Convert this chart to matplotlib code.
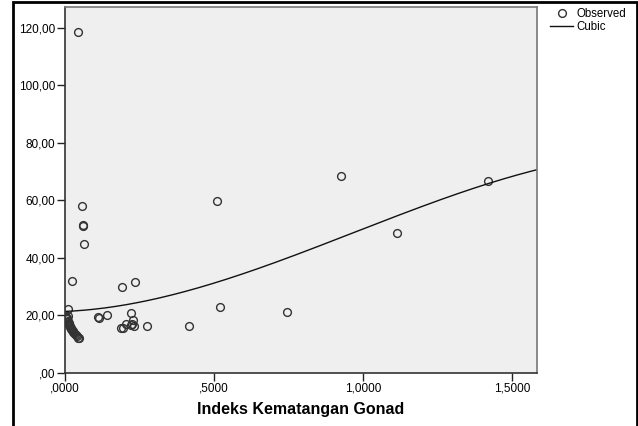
import numpy as np
import matplotlib.pyplot as plt
from matplotlib.ticker import FuncFormatter
from matplotlib.patches import Rectangle

plt.rcParams['font.family'] = ['Liberation Sans', 'DejaVu Sans']

ikg = [0.044, 0.056, 0.060, 0.061, 0.064, 0.025, 0.192, 0.235, 0.511, 0.520,
       0.746, 0.926, 1.113, 1.420,
       0.009, 0.010, 0.005, 0.006, 0.008, 0.010, 0.011, 0.012, 0.013, 0.015,
       0.016, 0.018, 0.019, 0.021, 0.022, 0.024, 0.026, 0.028, 0.030, 0.033,
       0.036, 0.039, 0.043, 0.047,
       0.111, 0.113, 0.140, 0.223, 0.188, 0.196, 0.206, 0.229, 0.226, 0.222,
       0.231, 0.274, 0.415]
nilai = [118.5, 58.0, 51.3, 51.0, 44.7, 31.9, 29.9, 31.8, 59.9, 22.9,
         21.3, 68.6, 48.5, 66.6,
         22.2, 19.9, 19.6, 19.0, 18.6, 18.2, 17.8, 17.4, 17.0, 16.7,
         16.4, 16.0, 15.7, 15.4, 15.1, 14.8, 14.5, 14.2, 13.9, 13.5,
         13.1, 12.7, 12.3, 12.0,
         19.6, 19.2, 20.2, 20.9, 15.6, 15.6, 17.2, 18.5, 17.2, 16.6,
         16.2, 16.2, 16.2]

# cubic model coefficients (b3, b2, b1, b0), as estimated from the drawn curve
cubic_coef = [-12.7, 37.0, 4.35, 21.4]

x = np.array(ikg)
y = np.array(nilai)

xs = np.linspace(0, 1.584, 300)
ys = np.polyval(cubic_coef, xs)

fig = plt.figure(figsize=(6.38, 4.26), dpi=100)
ax = fig.add_axes([65/638, 53/426, 472/638, 366/426])
ax.set_facecolor('#efefef')

ax.plot(x, y, 'o', mfc='none', mec='#333333', ms=5.6, mew=1.0, label='Observed')
ax.plot(xs, ys, color='#111111', lw=1.0, label='Cubic')

ax.set_xlim(0, 1.584)
ax.set_ylim(0, 127.2)
ax.set_xticks([0, 0.5, 1.0, 1.5])
ax.set_yticks([0, 20, 40, 60, 80, 100, 120])


def fmt(v, dec):
    s = ('%.' + str(dec) + 'f') % v
    s = s.replace('.', ',')
    if s.startswith('0,'):
        s = s[1:]
    return s


ax.xaxis.set_major_formatter(FuncFormatter(lambda v, p: fmt(v, 4)))
ax.yaxis.set_major_formatter(FuncFormatter(lambda v, p: fmt(v, 2)))
ax.tick_params(labelsize=8.5, length=6, width=1, color='#222222', pad=1.0)
for s in ax.spines.values():
    s.set_color('#777777')
    s.set_linewidth(1.2)
ax.spines['left'].set_color('#333333')
ax.spines['bottom'].set_color('#333333')

ax.set_xlabel('Indeks Kematangan Gonad', fontsize=11.5, fontweight='bold', labelpad=5)

fig.legend(loc='upper left', bbox_to_anchor=(544/638, 1 - 2/426), frameon=False,
           fontsize=8.3, handlelength=2.0, handletextpad=0.3, labelspacing=0.05,
           borderaxespad=0.15)

# outer frame around the figure
fig.patches.append(Rectangle((13/638, -0.1), 624/638, 1.1 - 2/426, transform=fig.transFigure,
                             fill=False, edgecolor='black', lw=2))

fig.savefig('out.png', dpi=100)
